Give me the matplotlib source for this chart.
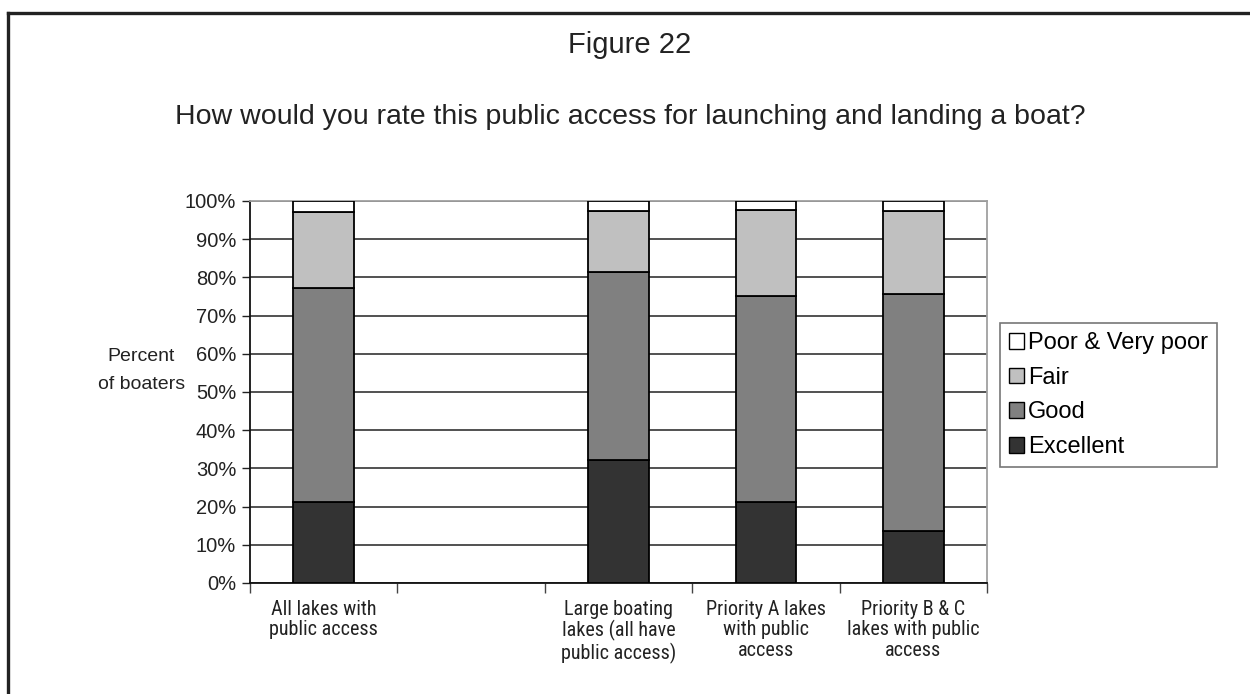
import matplotlib.pyplot as plt
import numpy as np
from matplotlib.lines import Line2D
from matplotlib.patches import Patch

plt.rcParams['font.family'] = ['Liberation Sans', 'DejaVu Sans']

categories = ["All lakes with\npublic access", "",
              "Large boating\nlakes (all have\npublic access)",
              "Priority A lakes\nwith public\naccess",
              "Priority B & C\nlakes with public\naccess"]
excellent = [21.3, np.nan, 32.2, 21.1, 13.6]
good = [55.8, np.nan, 49.3, 54.0, 62.1]
fair = [19.9, np.nan, 16.0, 22.5, 21.7]
poor = [3.0, np.nan, 2.5, 2.4, 2.6]

series = [("Excellent", excellent, "#333333"),
          ("Good", good, "#808080"),
          ("Fair", fair, "#c0c0c0"),
          ("Poor & Very poor", poor, "#ffffff")]

fig = plt.figure(figsize=(12.5, 6.94), dpi=100)
ax = fig.add_axes([0.2, 0.16, 0.5896, 0.5504])

x = np.arange(len(categories))
bottom = np.zeros(len(categories))
for name, vals, col in series:
    vals = np.array(vals, dtype=float)
    ax.bar(x, vals, 0.41, bottom=bottom, color=col, edgecolor='black',
           linewidth=1.3, label=name, zorder=3)
    bottom = bottom + np.nan_to_num(vals)

ax.set_xlim(-0.5, len(categories) - 0.5)
ax.set_ylim(0, 100)
ax.set_yticks(np.arange(0, 101, 10))
ax.set_yticklabels([f"{v}%" for v in range(0, 101, 10)], fontsize=14.5, color='#222222')
ax.yaxis.grid(True, color='#222222', linewidth=1.1, zorder=0)
ax.tick_params(axis='y', length=6, width=1, color='#222222', pad=4)

ax.set_xticks(np.arange(len(categories) + 1) - 0.5)
ax.set_xticklabels([])
ax.tick_params(axis='x', which='major', length=7, width=1, color='#444444')
ax.set_xticks(x, minor=True)
ax.set_xticklabels(categories, minor=True, fontsize=14.5, color='#222222',
                   family=['Roboto Condensed', 'Liberation Sans'], linespacing=1.1)
ax.tick_params(axis='x', which='minor', length=0, pad=12)

for s in ['left', 'bottom']:
    ax.spines[s].set_color('#111111')
    ax.spines[s].set_linewidth(1.3)
for s in ['top', 'right']:
    ax.spines[s].set_color('#a0a0a0')
    ax.spines[s].set_linewidth(1.3)

fig.text(0.113, 0.466, "Percent\nof boaters", ha='center', va='center', fontsize=14,
         color='#222222', linespacing=1.9)
fig.text(0.504, 0.935, "Figure 22", ha='center', va='center', fontsize=21, color='#222222')
fig.text(0.504, 0.831, "How would you rate this public access for launching and landing a boat?",
         ha='center', va='center', fontsize=20.5, color='#222222')

handles = [Patch(facecolor=c, edgecolor='black', label=n) for n, v, c in series[::-1]]
leg = fig.legend(handles=handles, loc='upper left', bbox_to_anchor=(0.8, 0.5346),
                 fontsize=17, frameon=True, fancybox=False, handlelength=0.65,
                 handleheight=0.65, handletextpad=0.15, borderpad=0.38, labelspacing=0.54,
                 borderaxespad=0)
leg.get_frame().set_edgecolor('#555555')
leg.get_frame().set_linewidth(1.2)

fig.add_artist(Line2D([8 / 1250, 8 / 1250], [0, 1 - 13 / 694], color='#222222', linewidth=2.4))
fig.add_artist(Line2D([8 / 1250, 1], [1 - 13 / 694, 1 - 13 / 694], color='#222222', linewidth=2.4))

plt.savefig("out.png", dpi=100)
